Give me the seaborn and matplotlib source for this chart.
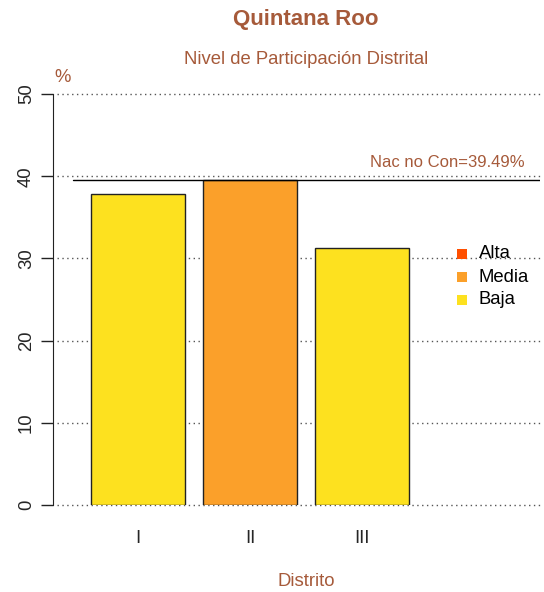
import matplotlib
matplotlib.use("Agg")
import matplotlib.pyplot as plt
import seaborn as sns
import pandas as pd
from matplotlib.patches import Rectangle

distritos = ["I", "II", "III"]
valores = [37.8, 39.5, 31.3]
niveles = ["Baja", "Media", "Baja"]
nivel_labels = ["Alta", "Media", "Baja"]
nivel_colors = ["#FF4F00", "#FBA02A", "#FDE11F"]
ref_valor = 39.49
ref_label = "Nac no Con=39.49%"
yticks = [0, 10, 20, 30, 40, 50]

sns.set_style("white")
plt.rcParams["font.family"] = ["Liberation Sans", "DejaVu Sans"]

brown = "#A65A3A"
base = 13.3
W, H = 544, 592
fig = plt.figure(figsize=(W / 100, H / 100), dpi=100)
ax = fig.add_axes([57 / W, 87 / H, (540 - 57) / W, (505 - 94) / H])

df = pd.DataFrame({"Distrito": distritos, "Valor": valores, "Nivel": niveles})
palette = dict(zip(nivel_labels, nivel_colors))
sns.barplot(data=df, x="Distrito", y="Valor", hue="Nivel", palette=palette,
            dodge=False, width=0.84, edgecolor="#222222", linewidth=1.0,
            saturation=1, legend=False, ax=ax, zorder=2)

for y in yticks:
    ax.axhline(y, color="#555555", linestyle=(0, (1, 2.5)), linewidth=1.0, zorder=0, clip_on=False)

ax.set_xlim(-0.723, 3.589)
ax.set_ylim(0, 50)
ax.plot([-0.58, 3.589], [ref_valor, ref_valor], color="black", linewidth=1.0, zorder=3)
ax.text(3.455, ref_valor + 1.3, ref_label, color=brown, fontsize=12, ha="right", va="bottom")

for s in ["top", "right", "bottom"]:
    ax.spines[s].set_visible(False)
ax.spines["left"].set_position(("outward", 3))
ax.spines["left"].set_color("#222222")
ax.spines["left"].set_bounds(0, 50)
ax.set_yticks(yticks)
ax.set_yticklabels([str(v) for v in yticks], rotation=90, va="center", fontsize=base)
ax.tick_params(axis="y", direction="out", length=9, width=1, color="#222222", pad=4, left=True)
ax.tick_params(axis="x", length=0, pad=18, labelsize=base)
ax.set_xlabel("")
ax.set_ylabel("")

fig.text(306 / W, 1 - 20 / H, "Quintana Roo", color=brown, fontsize=16, fontweight="bold", ha="center", va="center")
fig.text(306 / W, 1 - 59 / H, "Nivel de Participación Distrital", color=brown, fontsize=base, ha="center", va="center")
fig.text(63 / W, 1 - 77 / H, "%", color=brown, fontsize=base, ha="center", va="center")
fig.text(306 / W, 1 - 582 / H, "Distrito", color=brown, fontsize=base, ha="center", va="center")

for i, (lab, col) in enumerate(zip(nivel_labels, nivel_colors)):
    yc = 254 + i * 23
    fig.patches.append(Rectangle(((462 - 5) / W, 1 - (yc + 5) / H), 10 / W, 10 / H,
                                 facecolor=col, edgecolor="none", transform=fig.transFigure))
    fig.text(479 / W, 1 - yc / H, lab, color="black", fontsize=base, ha="left", va="center")

fig.savefig("out.png", dpi=100)
